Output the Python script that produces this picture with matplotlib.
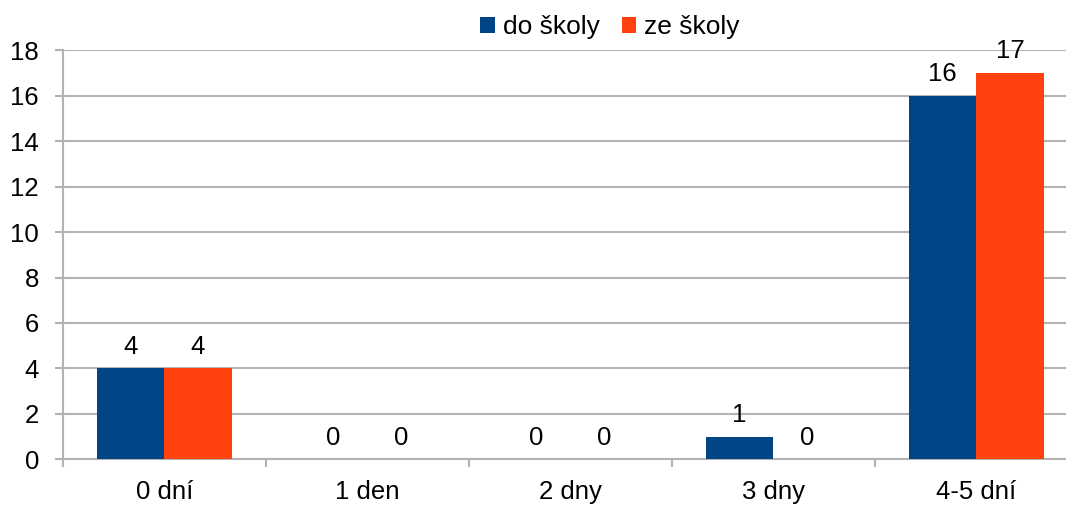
import matplotlib
matplotlib.use("Agg")
import matplotlib.pyplot as plt
import numpy as np

categories = ["0 dní", "1 den", "2 dny", "3 dny", "4-5 dní"]
do_skoly = [4, 0, 0, 1, 16]
ze_skoly = [4, 0, 0, 0, 17]
series_names = ["do školy", "ze školy"]
y_ticks = [0, 2, 4, 6, 8, 10, 12, 14, 16, 18]

BLUE = "#004586"
ORANGE = "#FF420E"
GRID = "#b3b3b3"
FS = 18.5

plt.rcParams["font.family"] = ["Liberation Sans", "DejaVu Sans"]
plt.rcParams["font.size"] = FS

fig = plt.figure(figsize=(10.66, 5.05), dpi=100)
ax = fig.add_axes([62.7 / 1066, 1 - 459.3 / 505, 1015 / 1066, 409 / 505])

x = np.arange(len(categories))
w = 0.333
b1 = ax.bar(x - w / 2, do_skoly, w, color=BLUE, label=series_names[0], zorder=3)
b2 = ax.bar(x + w / 2, ze_skoly, w, color=ORANGE, label=series_names[1], zorder=3)

for bars, vals in ((b1, do_skoly), (b2, ze_skoly)):
    for rect, v in zip(bars, vals):
        ax.annotate(str(v), (rect.get_x() + rect.get_width() / 2, v),
                    xytext=(0, 7), textcoords="offset points",
                    ha="center", va="bottom", fontsize=FS, color="#000000")

ax.set_xlim(-0.5, len(categories) - 0.5)
ax.set_ylim(0, 18)
ax.set_yticks(y_ticks)
ax.yaxis.grid(True, color=GRID, linewidth=1.5, zorder=0)
ax.set_axisbelow(True)

ax.set_xticks(x)
ax.set_xticklabels(categories)
ax.set_xticks(np.arange(-0.5, len(categories) + 0.5, 1), minor=True)
ax.tick_params(axis="x", which="major", length=0, pad=15)
ax.tick_params(axis="x", which="minor", length=6, width=1.5, color=GRID)
ax.tick_params(axis="y", length=6, width=1.5, color=GRID, pad=11)

for side in ("top", "right"):
    ax.spines[side].set_visible(False)
for side in ("left", "bottom"):
    ax.spines[side].set_color(GRID)
    ax.spines[side].set_linewidth(1.5)

fig.legend(handles=[b1, b2], labels=series_names, loc="center",
           bbox_to_anchor=(610 / 1066, 1 - 27 / 505), ncol=2, frameon=False,
           handlelength=0.55, handleheight=0.55, handletextpad=0.3,
           columnspacing=0.85, fontsize=19)

fig.savefig("out.png", dpi=100)
